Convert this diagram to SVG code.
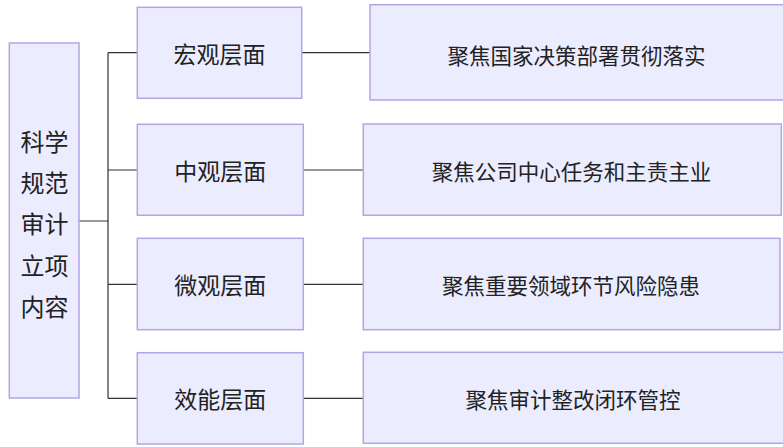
<svg xmlns="http://www.w3.org/2000/svg" width="783" height="447" viewBox="0 0 783 447">
<style>
.box{fill:#ECECFF;stroke:#B4A4E6;stroke-width:1.5}
.t{font-family:"Noto Sans CJK SC","Noto Sans",sans-serif;fill:#222;text-anchor:middle;dominant-baseline:central}
.m{font-size:23px}
.r{font-size:21.5px}
.l{font-size:24px}
.c{fill:none;stroke:#333;stroke-width:1.2}
</style>
<rect width="783" height="447" fill="#FFFFFF"/>
<g id="connectors">
<path class="c" d="M79 221 H108 M108 52.7 V398.3 M108 52.7 H137.3 M108 170 H137.3 M108 284.3 H137.3 M108 398.3 H137.3"/>
<path class="c" d="M301.7 52.7 H370 M303.3 170 H363.3 M303.3 284.3 H363.3 M303.3 398.3 H363.3"/>
</g>
<g id="root">
<rect class="box" x="9.3" y="43" width="69.7" height="355"/>
<text class="t l" x="44.5" y="140">科学</text>
<text class="t l" x="44.5" y="181.5">规范</text>
<text class="t l" x="44.5" y="222.5">审计</text>
<text class="t l" x="44.5" y="264">立项</text>
<text class="t l" x="44.5" y="305">内容</text>
</g>
<g id="macro">
<rect class="box" x="137.3" y="7.3" width="164.4" height="91"/>
<text class="t m" x="219.5" y="53">宏观层面</text>
</g>
<g id="meso">
<rect class="box" x="137.3" y="124.3" width="166" height="91"/>
<text class="t m" x="220.3" y="170">中观层面</text>
</g>
<g id="micro">
<rect class="box" x="137.3" y="238.3" width="166" height="91.4"/>
<text class="t m" x="220.3" y="284">微观层面</text>
</g>
<g id="efficiency">
<rect class="box" x="137.3" y="352.7" width="166" height="91.3"/>
<text class="t m" x="220.3" y="398">效能层面</text>
</g>
<g id="macro-focus">
<rect class="box" x="370" y="4.7" width="420" height="95.3"/>
<text class="t r" x="576.5" y="54">聚焦国家决策部署贯彻落实</text>
</g>
<g id="meso-focus">
<rect class="box" x="363.3" y="124" width="418" height="91.3"/>
<text class="t r" x="571.5" y="170">聚焦公司中心任务和主责主业</text>
</g>
<g id="micro-focus">
<rect class="box" x="363.3" y="238.3" width="416.7" height="91.4"/>
<text class="t r" x="571" y="284.5">聚焦重要领域环节风险隐患</text>
</g>
<g id="efficiency-focus">
<rect class="box" x="363.3" y="352.3" width="425" height="91"/>
<text class="t r" x="573" y="398">聚焦审计整改闭环管控</text>
</g>
</svg>
